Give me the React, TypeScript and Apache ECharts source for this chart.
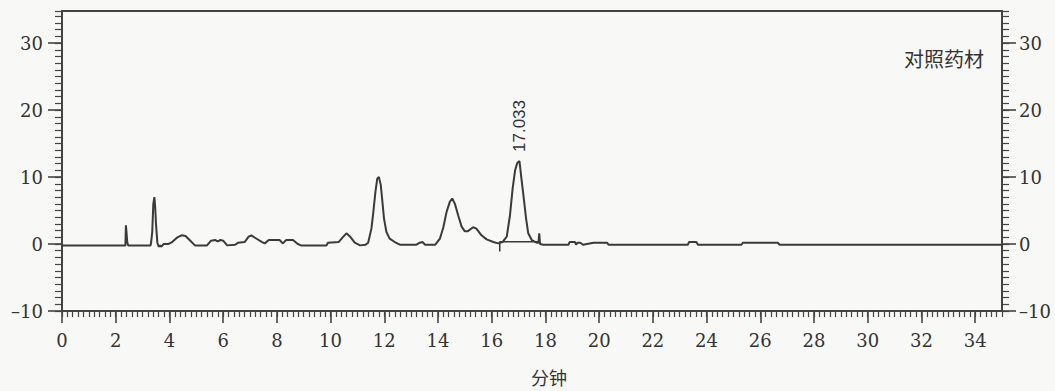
import React, { useEffect, useRef } from "react";
import * as echarts from "echarts";

// retention time (min)
const times = [
  0, 2.36, 2.38, 2.40, 2.43, 2.46, 3.30, 3.32, 3.36, 3.40, 3.44, 3.47, 3.50, 3.55, 3.60, 3.65, 3.70, 3.78,
  3.95, 4.10, 4.30, 4.45, 4.60, 4.75, 4.95, 5.40, 5.55, 5.70, 5.80, 5.90, 6.00, 6.15, 6.45, 6.55, 6.80,
  6.95, 7.05, 7.20, 7.45, 7.55, 7.70, 8.10, 8.22, 8.35, 8.60, 8.78, 8.90, 9.85, 9.90, 10.30, 10.45, 10.59,
  10.75, 10.90, 11.10, 11.30, 11.40, 11.52, 11.58, 11.67, 11.74, 11.80, 11.87, 11.93, 11.99, 12.08, 12.20,
  12.39, 12.58, 13.20, 13.32, 13.42, 13.52, 13.90, 14.07, 14.20, 14.32, 14.44, 14.53, 14.63, 14.75, 14.88,
  15.00, 15.10, 15.31, 15.43, 15.62, 15.81, 16.06, 16.24, 16.40, 16.56, 16.68, 16.78, 16.87, 16.95, 17.033,
  17.10, 17.18, 17.28, 17.36, 17.49, 17.67, 17.74, 17.77, 17.80, 17.92, 18.86, 18.90, 19.10, 19.14, 19.20,
  19.30, 19.40, 19.79, 20.29, 20.35, 23.30, 23.35, 23.62, 23.68, 25.30, 25.35, 26.65, 26.72, 35
];
// detector response
const signal = [
  -0.2, -0.2, 2.8, 2.8, 0.3, -0.2, -0.2, 0.3, 1.8, 6.0, 7.0, 5.5, 3.0, 0.2, -0.4, -0.2, -0.4, 0.0,
  0.0, 0.3, 1.0, 1.3, 1.2, 0.6, -0.2, -0.2, 0.5, 0.6, 0.4, 0.6, 0.5, -0.2, -0.1, 0.2, 0.3,
  1.1, 1.3, 0.9, 0.3, 0.1, 0.6, 0.6, 0.1, 0.6, 0.6, 0.0, -0.2, -0.2, 0.2, 0.3, 1.0, 1.6,
  1.0, 0.2, -0.2, -0.1, 0.2, 2.3, 4.3, 7.8, 9.8, 10.0, 8.8, 6.3, 3.8, 1.8, 0.8,
  0.3, -0.1, -0.1, 0.2, 0.3, -0.1, -0.1, 0.8, 2.5, 4.8, 6.3, 6.8, 6.0, 4.3, 2.6,
  1.9, 1.9, 2.5, 2.3, 1.3, 0.7, 0.3, 0.1, 0.3, 1.1, 4.3, 8.3, 11.0, 12.1, 12.4,
  10.0, 7.3, 3.8, 1.6, 0.6, 0.2, 0.2, 1.6, 0.0, -0.1, -0.1, 0.3, 0.3, -0.1, 0.2,
  0.2, -0.1, 0.2, 0.2, -0.1, -0.1, 0.3, 0.3, -0.1, -0.1, 0.2, 0.2, -0.1, -0.1
];
// integration baseline marker
const baseTimes = [16.3, 16.3, 17.78];
const baseValues = [-1.1, 0.33, 0.33];

const peakTime = 17.033;
const peakValue = 12.4;
const peakLabel = "17.033";

const xTicks = [0, 2, 4, 6, 8, 10, 12, 14, 16, 18, 20, 22, 24, 26, 28, 30, 32, 34];
const yTicks = [-10, 0, 10, 20, 30];

const sampleName = "对照药材";
const xName = "分钟";

const AXIS = "#444";
const TEXT = "#333";
const SERIF = "'DejaVu Serif', 'Liberation Serif', serif";
const CJK = "'Noto Sans CJK SC', sans-serif";

export default function App() {
  const ref = useRef<HTMLDivElement>(null);
  useEffect(() => {
    if (!ref.current) return;
    const chart = echarts.init(ref.current, null, { renderer: "svg" });
    const X_MIN = 0, X_MAX = 35, Y_MIN = -10, Y_MAX = 34.8;

    const mainX = (show: boolean) => ({
      type: "value", min: X_MIN, max: X_MAX, interval: 2, position: "bottom",
      axisLine: { show: false, onZero: false },
      axisTick: { show: true, length: 12, lineStyle: { color: AXIS, width: 1.6 }, customValues: xTicks },
      axisLabel: {
        show, customValues: xTicks, margin: 20,
        fontFamily: SERIF, fontSize: 18, color: TEXT,
      },
      splitLine: { show: false },
    });
    const minorX = {
      type: "value", min: X_MIN, max: X_MAX, interval: 0.2, position: "bottom",
      axisLine: { show: false, onZero: false },
      axisTick: { show: true, length: 6, lineStyle: { color: AXIS, width: 1.2 } },
      axisLabel: { show: false },
      splitLine: { show: false },
    };
    const mainY = (pos: string) => ({
      type: "value", min: Y_MIN, max: Y_MAX, interval: 10, position: pos,
      axisLine: { show: false, onZero: false },
      axisTick: { show: true, length: 14, lineStyle: { color: AXIS, width: 1.6 }, customValues: yTicks },
      axisLabel: {
        show: true, customValues: yTicks, margin: pos === "left" ? 19 : 17,
        fontFamily: SERIF, fontSize: 18, color: TEXT,
        formatter: (v: number) => (v < 0 ? "\u2013" + Math.abs(v) : String(v)),
      },
      splitLine: { show: false },
    });
    const minorY = (pos: string) => ({
      type: "value", min: Y_MIN, max: Y_MAX, interval: 1, position: pos,
      axisLine: { show: false, onZero: false },
      axisTick: { show: true, length: 7, lineStyle: { color: AXIS, width: 1.2 } },
      axisLabel: { show: false },
      splitLine: { show: false },
    });

    chart.setOption({
      animation: false,
      backgroundColor: "#f8f8f6",
      grid: {
        left: 62, right: 53, top: 11, bottom: 80,
        show: true, borderColor: AXIS, borderWidth: 2, backgroundColor: "transparent",
        containLabel: false, outerBoundsMode: "none",
      },
      xAxis: [mainX(true), minorX],
      yAxis: [mainY("left"), minorY("left"), mainY("right"), minorY("right")],
      series: [
        {
          type: "line", xAxisIndex: 0, yAxisIndex: 0,
          data: times.map((t, i) => [t, signal[i]]),
          symbol: "none", showSymbol: false,
          lineStyle: { color: "#3a3a3a", width: 2 },
        },
        {
          type: "line", xAxisIndex: 0, yAxisIndex: 0,
          data: baseTimes.map((t, i) => [t, baseValues[i]]),
          symbol: "none", showSymbol: false,
          lineStyle: { color: "#3a3a3a", width: 1.5 },
        },
      ],
    });

    const p = chart.convertToPixel({ xAxisIndex: 0, yAxisIndex: 0 }, [peakTime, peakValue]) as number[];
    chart.setOption({
      graphic: [
        {
          type: "text", x: p[0], y: p[1] - 9, rotation: Math.PI / 2,
          style: {
            text: peakLabel, fontFamily: "'Liberation Sans', Arial, sans-serif", fontSize: 17,
            fill: TEXT, align: "left", verticalAlign: "middle",
          },
        },
        {
          type: "text", x: 984, y: 58,
          style: {
            text: sampleName, fontFamily: CJK, fontSize: 20, fill: TEXT,
            align: "right", verticalAlign: "middle",
          },
        },
        {
          type: "text", x: 549, y: 377,
          style: {
            text: xName, fontFamily: CJK, fontSize: 18, fill: TEXT,
            align: "center", verticalAlign: "middle",
          },
        },
      ],
    });

    return () => chart.dispose();
  }, []);
  return (
    <div
      ref={ref}
      style={{ position: "absolute", left: 0, top: 0, width: 1055, height: 391 }}
    />
  );
}
